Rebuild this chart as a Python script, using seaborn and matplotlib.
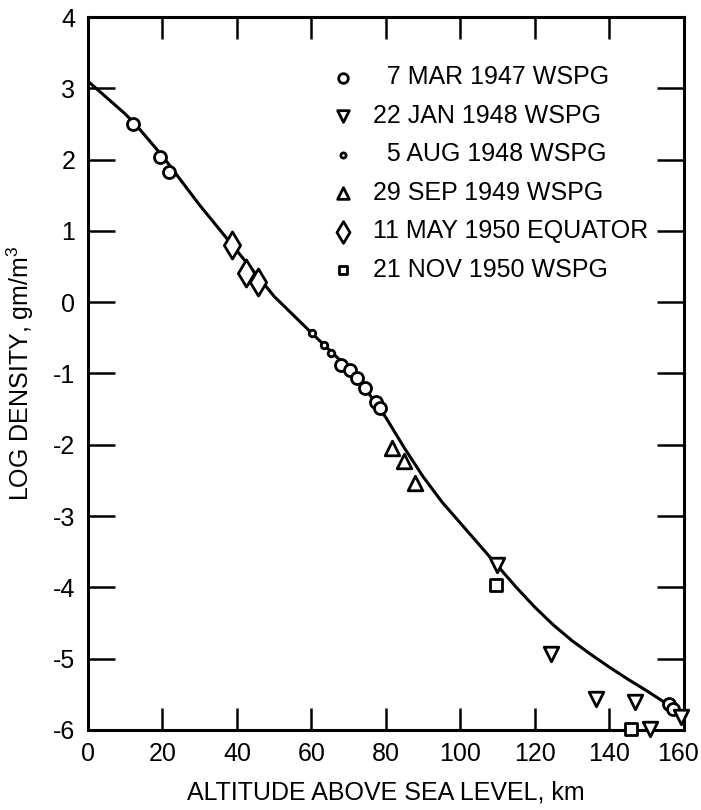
import matplotlib
matplotlib.use("Agg")
import matplotlib.pyplot as plt
import matplotlib.transforms as mtransforms
import seaborn as sns
import pandas as pd

sns.set_theme(style="white")
plt.rcParams['font.family'] = ['Liberation Sans', 'DejaVu Sans']
plt.rcParams['mathtext.fontset'] = 'custom'
plt.rcParams['mathtext.rm'] = 'Liberation Sans'

# ---- data ----
curve_alt = [0, 10, 13, 20, 30, 40, 50, 60, 65, 70, 75, 80, 85, 90, 95, 100,
             105, 110, 115, 120, 125, 130, 135, 140, 145, 150, 155, 160]
curve_logd = [3.10, 2.64, 2.48, 2.05, 1.36, 0.72, 0.08, -0.43, -0.68, -0.93, -1.25,
              -1.62, -2.05, -2.45, -2.80, -3.10, -3.40, -3.70, -4.00,
              -4.28, -4.53, -4.75, -4.94, -5.12, -5.29, -5.45, -5.62, -5.83]

mar47_alt = [12.1, 19.4, 21.8, 68.0, 70.4, 72.2, 74.5, 77.2, 78.5, 155.9, 157.0]
mar47_logd = [2.50, 2.03, 1.82, -0.88, -0.95, -1.07, -1.21, -1.40, -1.49, -5.64, -5.71]

jan48_alt = [109.9, 124.2, 136.3, 146.8, 150.8, 159.1]
jan48_logd = [-3.69, -4.93, -5.56, -5.61, -5.98, -5.82]

aug48_alt = [60.1, 63.3, 65.2]
aug48_logd = [-0.43, -0.60, -0.71]

sep49_alt = [81.6, 84.8, 87.9]
sep49_logd = [-2.05, -2.23, -2.54]

may50_alt = [38.6, 42.4, 45.6]
may50_logd = [0.80, 0.41, 0.29]

nov50_alt = [109.6, 145.9]
nov50_logd = [-3.97, -5.98]

labels = ["\u20077 MAR 1947 WSPG", "22 JAN 1948 WSPG", "\u20075 AUG 1948 WSPG",
          "29 SEP 1949 WSPG", "11 MAY 1950 EQUATOR", "21 NOV 1950 WSPG"]

x_ticks = [0, 20, 40, 60, 80, 100, 120, 140, 160]
y_ticks = [4, 3, 2, 1, 0, -1, -2, -3, -4, -5, -6]

series = [
    (mar47_alt, mar47_logd, 'o', 75),
    (jan48_alt, jan48_logd, 'v', 110),
    (aug48_alt, aug48_logd, 'o', 22),
    (sep49_alt, sep49_logd, '^', 110),
    (may50_alt, may50_logd, 'd', 190),
    (nov50_alt, nov50_logd, 's', 65),
]

FS = 18

fig = plt.figure(figsize=(7.01, 8.10), dpi=100)
ax = fig.add_axes([0.1255, 0.0988, 0.8502, 0.8802])

sns.lineplot(x=curve_alt, y=curve_logd, ax=ax, color='black', linewidth=2.2,
             sort=False, estimator=None)

for (xs, ys, m, s), lab in zip(series, labels):
    df = pd.DataFrame({'alt': xs, 'logd': ys})
    sns.scatterplot(data=df, x='alt', y='logd', ax=ax, marker=m, s=s,
                    color='white', edgecolor='black', linewidth=2.0,
                    label=lab, clip_on=False, zorder=3)

ax.set_xlim(0, 160)
ax.set_ylim(-6, 4)
ax.set_xticks(x_ticks)
ax.set_yticks(y_ticks)
ax.set_xticklabels([str(v) for v in x_ticks])
ax.set_yticklabels([str(v) for v in y_ticks])

for sp in ax.spines.values():
    sp.set_linewidth(2.2)
    sp.set_color('black')

ax.tick_params(axis='x', which='major', direction='in', length=16, width=1.8,
               top=True, bottom=True, labelsize=FS, pad=9, colors='black')
ax.tick_params(axis='y', which='major', direction='in', length=19.5, width=1.8,
               left=True, right=True, labelsize=FS, pad=9, colors='black')
# nudge the last x tick label slightly left so it stays inside the canvas
last = ax.get_xticklabels()[-1]
last.set_transform(last.get_transform() +
                   mtransforms.ScaledTranslation(-6 / 100, 0, fig.dpi_scale_trans))

ax.set_xlabel("ALTITUDE ABOVE SEA LEVEL, km", fontsize=FS, labelpad=10, color='black')
ax.set_ylabel("LOG DENSITY, gm/m$^3$", fontsize=FS, labelpad=12, color='black')

leg = ax.legend(loc='upper left', bbox_to_anchor=(0.407, 0.932), frameon=False,
                fontsize=FS, borderaxespad=0, borderpad=0, handlelength=1.0,
                handletextpad=0.7, labelspacing=0.58, markerscale=0.8)
for t in leg.get_texts():
    t.set_color('black')

fig.savefig("out.png", dpi=100)
